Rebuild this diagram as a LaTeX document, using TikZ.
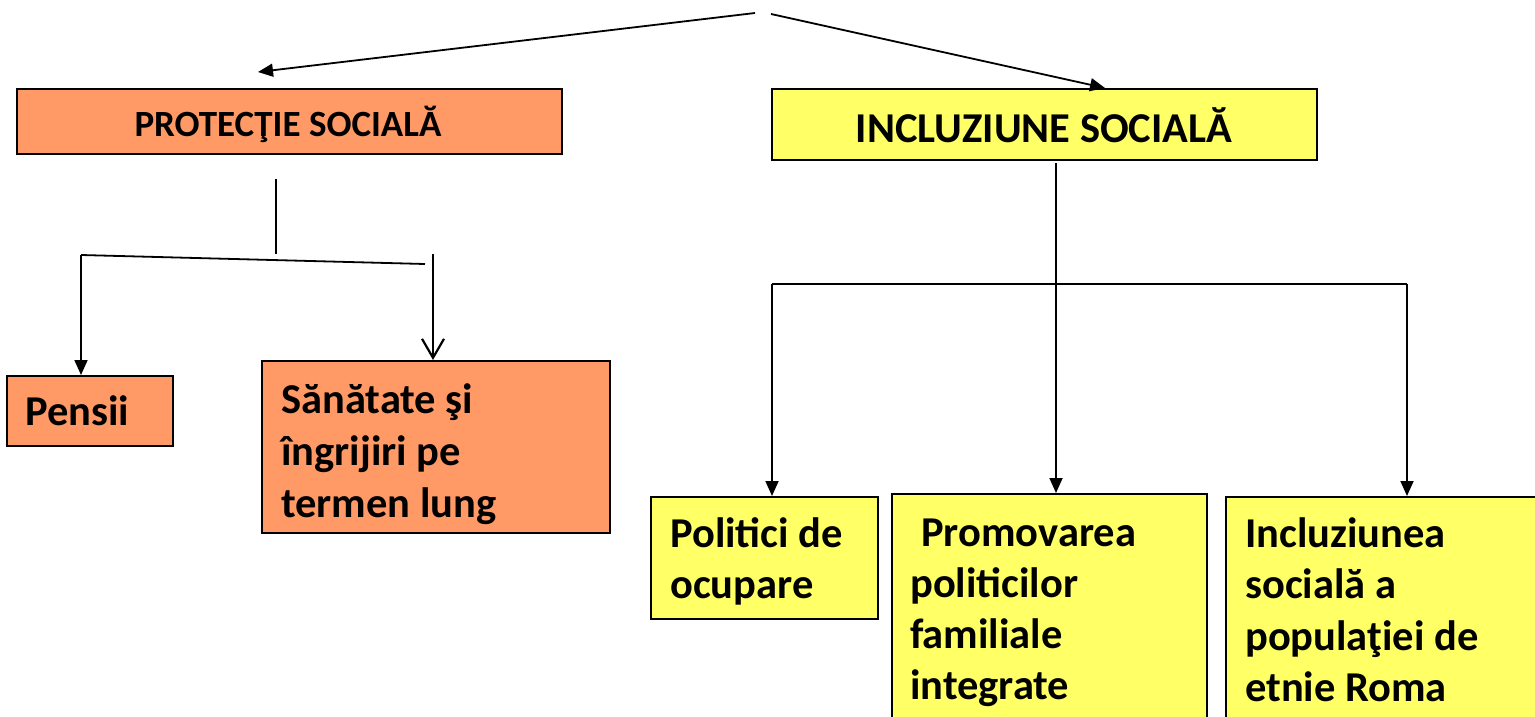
\documentclass[tikz,border=0pt]{standalone}
\usepackage{fontspec}
\setmainfont{Carlito}
\usetikzlibrary{arrows.meta}
\definecolor{orangebox}{RGB}{255,153,102}
\definecolor{yellowbox}{RGB}{255,255,102}
\tikzset{
  boxo/.style={draw=black, line width=2pt, fill=orangebox, inner sep=0pt, anchor=north west},
  boxy/.style={draw=black, line width=2pt, fill=yellowbox, inner sep=0pt, anchor=north west},
  lbl/.style={inner sep=0pt, anchor=base west, font=\fontsize{42.5}{51}\selectfont\bfseries, align=left},
  conn/.style={line width=1.8pt, draw=black},
  arr/.style={conn, -{Triangle[length=15pt,width=13pt]}},
  openarr/.style={conn, -{Straight Barb[length=19pt,width=22pt,line width=2.2pt]}},
}
\begin{document}
\begin{tikzpicture}[x=1pt,y=-1pt]
\useasboundingbox (0,0) rectangle (1535,717);
% boxes
\node[boxo, minimum width=545pt, minimum height=65pt] (prot) at (16,88) {};
\node[inner sep=0pt, anchor=base, font=\fontsize{37}{44}\selectfont\bfseries] (protT) at (288,136) {PROTECŢIE SOCIALĂ};
\node[boxy, minimum width=545pt, minimum height=71pt] (incl) at (771,88) {};
\node[inner sep=0pt, anchor=base, font=\fontsize{42.5}{50}\selectfont\bfseries] (inclT) at (1044,142) {INCLUZIUNE SOCIALĂ};
\node[boxo, minimum width=166pt, minimum height=70pt] (pens) at (6,375) {};
\node[lbl] (pensT) at (25,425) {Pensii};
\node[boxo, minimum width=348pt, minimum height=172pt] (san) at (261,360) {};
\node[lbl] (sanT1) at (281,413) {Sănătate şi};
\node[lbl] (sanT2) at (281,465) {îngrijiri pe};
\node[lbl] (sanT3) at (281,517) {termen lung};
\node[boxy, minimum width=227pt, minimum height=122pt] (pol) at (650,496) {};
\node[lbl] (polT1) at (670,547) {Politici de};
\node[lbl] (polT2) at (670,598) {ocupare};
\node[boxy, minimum width=315pt, minimum height=240pt] (prom) at (891,493) {};
\node[lbl] (promT1) at (921,546) {Promovarea};
\node[lbl] (promT2) at (910,597) {politicilor};
\node[lbl] (promT3) at (910,648) {familiale};
\node[lbl] (promT4) at (910,699) {integrate};
\node[boxy, minimum width=320pt, minimum height=240pt] (rom) at (1225,496) {};
\node[lbl] (romT1) at (1245,547) {Incluziunea};
\node[lbl] (romT2) at (1245,598) {socială a};
\node[lbl] (romT3) at (1245,650) {populaţiei de};
\node[lbl] (romT4) at (1245,701) {etnie Roma};
% coordinates for free ends
\coordinate (topL) at (755,13);
\coordinate (topR) at (771,14);
\coordinate (protTipL) at (258,72);
\coordinate (vA) at (276,179);
\coordinate (vB) at (276,254);
\coordinate (hL) at (81,255);
\coordinate (hR) at (425,264);
\coordinate (sA) at (433,254);
\coordinate (iA) at (1056,163);
\coordinate (hiL) at (772,284);
\coordinate (hiR) at (1407,284);
% connectors
\draw[arr] (topL) -- (protTipL);
\draw[arr] (topR) -- (1105,88);
\draw[conn] (vA) -- (vB);
\draw[conn] (hR) -- (hL);
\draw[arr] (hL) -- (hL |- pens.north);
\draw[openarr] (sA) -- (sA |- san.north);
\draw[arr] (iA) -- (iA |- prom.north);
\draw[conn] (hiL) -- (hiR);
\draw[arr] (hiL) -- (hiL |- pol.north);
\draw[arr] (hiR) -- (hiR |- rom.north);
\end{tikzpicture}
\end{document}
